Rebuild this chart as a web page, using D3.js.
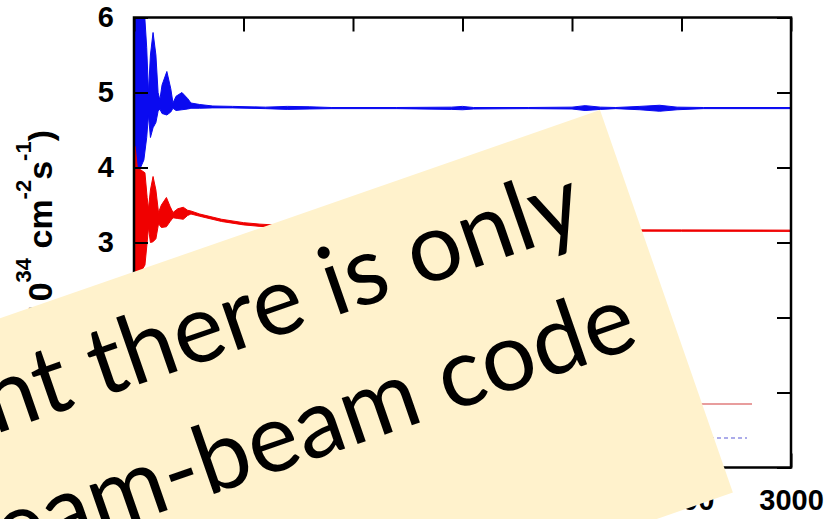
<!DOCTYPE html>
<html>
<head>
<meta charset="utf-8">
<script src="https://d3js.org/d3.v7.min.js"></script>
<style>
  html, body { margin: 0; padding: 0; background: #fff; }
  svg { display: block; }
</style>
</head>
<body>
<div id="chart"></div>
<script>
// axis ticks
const xTicks = [0, 500, 1000, 1500, 2000, 2500, 3000];
const yTicks = [0, 1, 2, 3, 4, 5, 6];

// blue series: envelope of the fast oscillation (turn, upper, lower)
const blueTurn = [0, 14, 30, 45, 58, 66, 75, 87, 100, 110, 118, 128, 150, 168, 178, 192, 219, 245, 260, 300, 360, 450, 600, 700, 800, 900, 1200, 1450, 1500, 1550, 1800, 2000, 2060, 2130, 2200, 2310, 2400, 2480, 2600, 3000];
const blueHi   = [6.3, 6.3, 6.3, 6.2, 5.6, 5.0, 5.5, 5.8, 5.5, 5.0, 4.9, 5.1, 5.28, 5.05, 4.86, 4.95, 5.0, 4.92, 4.86, 4.84, 4.82, 4.815, 4.805, 4.815, 4.81, 4.8, 4.8, 4.805, 4.815, 4.8, 4.8, 4.805, 4.825, 4.805, 4.8, 4.815, 4.83, 4.805, 4.8, 4.8];
const blueLo   = [3.9, 3.9, 4.0, 4.1, 4.4, 4.7, 4.4, 4.53, 4.6, 4.75, 4.78, 4.72, 4.7, 4.74, 4.79, 4.76, 4.77, 4.78, 4.79, 4.79, 4.795, 4.795, 4.785, 4.775, 4.78, 4.785, 4.785, 4.775, 4.77, 4.78, 4.785, 4.78, 4.76, 4.775, 4.785, 4.77, 4.75, 4.77, 4.785, 4.785];

// red series: envelope (turn, upper, lower)
const redTurn = [0, 5, 15, 30, 50, 60, 66, 75, 87, 100, 112, 125, 148, 165, 178, 200, 225, 245, 260, 300, 400, 500, 575, 760, 1000, 1500, 2000, 2500, 3000];
const redHi   = [4.3, 4.28, 4.0, 3.97, 3.93, 3.6, 3.45, 3.7, 3.88, 3.7, 3.4, 3.5, 3.6, 3.48, 3.4, 3.45, 3.47, 3.43, 3.42, 3.38, 3.31, 3.265, 3.245, 3.215, 3.19, 3.175, 3.17, 3.168, 3.165];
const redLo   = [2.5, 2.55, 2.6, 2.6, 2.7, 3.0, 3.2, 3.0, 3.01, 3.05, 3.25, 3.2, 3.21, 3.28, 3.33, 3.32, 3.31, 3.36, 3.38, 3.35, 3.28, 3.235, 3.215, 3.19, 3.17, 3.158, 3.152, 3.15, 3.148];

// legend samples (labels are under the note)
const legendColors = ["#d23c3c", "#5a5ad6"];
const legendDash = [null, "4,3"];

// note laid over the chart
const noteLines = ["nt there is only", "eam-beam code"];

const W = 837, H = 519;
const svg = d3.select("#chart").append("svg")
  .attr("width", W)
  .attr("height", H);

const x = d3.scaleLinear().domain([0, 3000]).range([134, 791]);
const y = d3.scaleLinear().domain([0, 6]).range([467.5, 17.5]);

const font = "'Liberation Sans', Arial, sans-serif";

svg.append("clipPath").attr("id", "plotClip")
  .append("rect")
  .attr("x", x(0)).attr("y", y(6))
  .attr("width", x(3000) - x(0)).attr("height", y(0) - y(6));

// data envelopes
const plot = svg.append("g").attr("clip-path", "url(#plotClip)");

function envelope(turn, hi, lo) {
  return turn.map((t, i) => ({ t: t, hi: hi[i], lo: lo[i] }));
}
const area = d3.area()
  .x(d => x(d.t))
  .y0(d => y(d.lo))
  .y1(d => y(d.hi));

plot.append("path")
  .datum(envelope(blueTurn, blueHi, blueLo))
  .attr("d", area)
  .attr("fill", "#0a0af0")
  .attr("stroke", "#0a0af0")
  .attr("stroke-width", 1);

plot.append("path")
  .datum(envelope(redTurn, redHi, redLo))
  .attr("d", area)
  .attr("fill", "#f00000")
  .attr("stroke", "#f00000")
  .attr("stroke-width", 1);

// legend line samples
legendColors.forEach((c, i) => {
  svg.append("line")
    .attr("x1", 640).attr("x2", i === 0 ? 752 : 747)
    .attr("y1", 404 + i * 34).attr("y2", 404 + i * 34)
    .attr("stroke", c)
    .attr("stroke-width", 1.2)
    .attr("stroke-dasharray", legendDash[i]);
});

// axes with inward ticks on all four sides
function styleAxis(g, size) {
  g.select(".domain").remove();
  g.selectAll(".tick line").attr("stroke", "#000").attr("stroke-width", 2);
  g.selectAll("text")
    .attr("fill", "#000")
    .attr("font-family", font)
    .attr("font-weight", "bold")
    .attr("font-size", size);
}

svg.append("g")
  .attr("transform", `translate(0,${y(0)})`)
  .call(d3.axisBottom(x).tickValues(xTicks).tickFormat(d3.format("d"))
    .tickSizeInner(-14).tickSizeOuter(0).tickPadding(22))
  .call(g => styleAxis(g, 29));

svg.append("g")
  .attr("transform", `translate(${x(0)},0)`)
  .call(d3.axisLeft(y).tickValues(yTicks).tickFormat(d3.format("d"))
    .tickSizeInner(-14).tickSizeOuter(0).tickPadding(20))
  .call(g => styleAxis(g, 29));

svg.append("g")
  .attr("transform", `translate(0,${y(6)})`)
  .call(d3.axisTop(x).tickValues(xTicks).tickSizeInner(-14).tickSizeOuter(0).tickFormat(""))
  .call(g => styleAxis(g, 10));

svg.append("g")
  .attr("transform", `translate(${x(3000)},0)`)
  .call(d3.axisRight(y).tickValues(yTicks).tickSizeInner(-14).tickSizeOuter(0).tickFormat(""))
  .call(g => styleAxis(g, 10));

svg.append("rect")
  .attr("x", x(0)).attr("y", y(6))
  .attr("width", x(3000) - x(0)).attr("height", y(0) - y(6))
  .attr("fill", "none")
  .attr("stroke", "#000")
  .attr("stroke-width", 2.5);

// y axis title
const yt = svg.append("text")
  .attr("transform", "translate(52,130) rotate(-90)")
  .attr("text-anchor", "end")
  .attr("font-family", font)
  .attr("font-weight", "bold")
  .attr("font-size", 34)
  .attr("fill", "#000");
yt.append("tspan").text("Luminosity (10");
yt.append("tspan").attr("dy", -21).attr("font-size", 22).text("34");
yt.append("tspan").attr("dy", 21).text(" cm");
yt.append("tspan").attr("dy", -21).attr("font-size", 22).text("-2");
yt.append("tspan").attr("dy", 21).text("s");
yt.append("tspan").attr("dy", -21).attr("font-size", 22).text("-1");
yt.append("tspan").attr("dy", 21).text(")");

// rotated note box
const note = svg.append("g")
  .attr("transform", "translate(600,110) rotate(-19.15)");
note.append("rect")
  .attr("x", -1200).attr("y", 0)
  .attr("width", 1200).attr("height", 405)
  .attr("fill", "#fff2cc");
note.selectAll("text.note")
  .data(noteLines)
  .enter().append("text")
    .attr("class", "note")
    .attr("x", (d, i) => i === 0 ? -50 : -38)
    .attr("y", (d, i) => 108 + i * 128)
    .attr("text-anchor", "end")
    .attr("font-family", "Lato, 'Open Sans', sans-serif")
    .attr("font-size", 96)
    .attr("fill", "#000")
    .text(d => d);
</script>
</body>
</html>
